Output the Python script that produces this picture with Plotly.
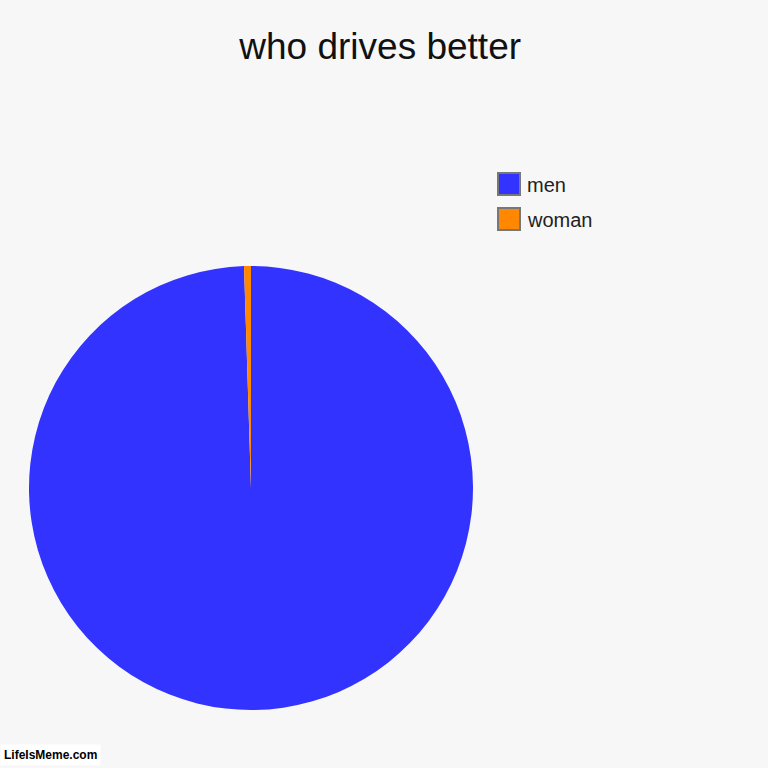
import plotly.graph_objects as go

title = "who drives better"
labels = ["men", "woman"]
values = [199, 1]
colors = ["#3333ff", "#ff8800"]

bg = "#f7f7f7"

fig = go.Figure()

fig.add_trace(go.Pie(
    labels=labels,
    values=values,
    sort=False,
    direction="clockwise",
    rotation=0,
    marker=dict(colors=colors, line=dict(width=0)),
    textinfo="none",
    hoverinfo="label+value+percent",
    showlegend=False,
    domain=dict(x=[29 / 768, 473 / 768], y=[1 - 710 / 768, 1 - 266 / 768]),
))

# legend drawn by hand so the swatches get the grey border without outlining the pie
for i, (lab, col) in enumerate(zip(labels, colors)):
    top = 173 + i * 35
    fig.add_shape(
        type="rect", xref="paper", yref="paper",
        x0=498 / 768, x1=520 / 768,
        y0=1 - (top + 22) / 768, y1=1 - top / 768,
        fillcolor=col, line=dict(color="#777777", width=2),
    )
    fig.add_annotation(
        x=525 / 768, y=1 - (top + 11.5) / 768, xref="paper", yref="paper",
        text=lab, showarrow=False, xanchor="left", yanchor="middle",
        font=dict(family="Liberation Sans, Arial", size=20, color="#222222"),
    )

# watermark
fig.add_annotation(
    x=0, y=2 / 768, xref="paper", yref="paper",
    text="<b>LifeIsMeme.com</b>", showarrow=False,
    xanchor="left", yanchor="bottom",
    bgcolor="white", borderpad=3,
    font=dict(family="Liberation Sans", size=12, color="black"),
)

fig.update_layout(
    width=768, height=768,
    margin=dict(l=0, r=0, t=0, b=0),
    paper_bgcolor=bg, plot_bgcolor=bg,
    title=dict(
        text=title, x=0.495, xanchor="center", y=1 - 46 / 768, yanchor="middle",
        font=dict(family="Liberation Sans, Arial", size=37, color="#111111"),
    ),
)

fig.write_html(
    "out.html",
    config={"displayModeBar": False},
    post_script="document.body.style.margin='0';",
)
